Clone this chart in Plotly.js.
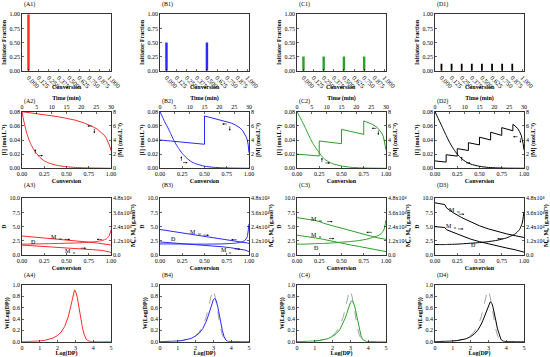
<!DOCTYPE html>
<html><head><meta charset="utf-8">
<script src="https://cdn.plot.ly/plotly-3.0.1.min.js"></script>
<style>body{margin:0;background:#fff}#chart{width:550px;height:357px}</style>
</head><body><div id="chart"></div>
<script>
// ---------- DATA ----------
const panelNames = ["A","B","C","D"];
const colors = ["#ff2a2a","#2a2aff","#2ca02c","#000000"];
// Row 1: initiator fraction added at each conversion
const convTickVals = [0,0.125,0.25,0.375,0.5,0.625,0.75,0.875,1.0];
const convTickText = ["0.000","0.125","0.250","0.375","0.500","0.625","0.750","0.875","1.000"];
const initConvA = [0], initFracA = [1.0];
const initConvB = [0,0.5], initFracB = [0.5,0.5];
const initConvC = [0,0.25,0.5,0.75], initFracC = [0.25,0.25,0.25,0.25];
const initConvD = [0,0.125,0.25,0.375,0.5,0.625,0.75,0.875], initFracD = [0.125,0.125,0.125,0.125,0.125,0.125,0.125,0.125];

// Row 2: [I] vs conversion (left / bottom)
const iConvA = [0,0.1,0.2,0.3,0.4,0.5,0.6,0.7,0.75,0.8,0.85,0.9,0.93,0.95,0.97,0.98,0.99,1.0];
const iValA  = [0.080,0.0785,0.077,0.075,0.073,0.0706,0.068,0.064,0.0615,0.0585,0.055,0.050,0.046,0.042,0.037,0.034,0.030,0.025];
const iConvB = [0,0.5,0.5,0.6,0.7,0.75,0.8,0.85,0.9,0.93,0.95,0.97,0.98,0.99,1.0];
const iValB  = [0.040,0.034,0.074,0.071,0.068,0.066,0.064,0.061,0.057,0.053,0.049,0.044,0.040,0.034,0.022];
const iConvC = [0,0.25,0.25,0.5,0.5,0.75,0.75,0.8,0.85,0.9,0.93,0.95,0.97,0.98,0.99,1.0];
const iValC  = [0.020,0.0174,0.0386,0.0348,0.055,0.048,0.067,0.065,0.062,0.058,0.054,0.050,0.045,0.040,0.034,0.026];
const iConvD = [0,0.125,0.125,0.25,0.25,0.375,0.375,0.5,0.5,0.625,0.625,0.75,0.75,0.875,0.875,0.9,0.93,0.95,0.97,0.98,0.99,1.0];
const iValD  = [0.0104,0.0088,0.0192,0.0172,0.0278,0.0252,0.0362,0.0330,0.0440,0.0400,0.0510,0.0465,0.0575,0.0530,0.0620,0.060,0.056,0.052,0.046,0.041,0.035,0.026];
// Row 2: [M] vs time (right / top)
const mTimeA = [0,0.6,1.2,1.8,2.4,3,3.9,4.8,6,7.5,9,12,15,18,21,24,30];
const mValA  = [8.0,6.7,5.6,4.7,4.0,3.4,2.7,2.15,1.55,1.05,0.75,0.4,0.22,0.12,0.07,0.04,0.0];
const mTimeB = [0,0.9,1.8,2.7,3.6,4.5,5.4,6.3,7.5,9,10.5,12,15,18,21,24,30];
const mValB  = [8.0,7.2,6.4,5.7,4.9,4.1,3.4,2.8,2.1,1.45,0.95,0.65,0.3,0.14,0.07,0.03,0.0];
const mTimeC = [0,0.9,1.8,2.7,3.6,4.5,5.4,6.3,7.5,9,10.5,12,15,18,21,24,30];
const mValC  = [8.0,7.3,6.6,5.8,5.0,4.2,3.5,2.9,2.2,1.4,0.95,0.65,0.33,0.15,0.07,0.03,0.0];
const mTimeD = [0,0.9,1.8,2.7,3.6,4.5,5.4,6.3,7.5,9,10.5,12,15,18,21,24,30];
const mValD  = [8.0,7.2,6.4,5.6,4.8,4.0,3.3,2.7,2.0,1.35,0.9,0.6,0.28,0.12,0.06,0.02,0.0];

// Row 3: dispersity (left) and Mn, Mw in g/mol (right)
const r3ConvA = [0,0.1,0.2,0.3,0.4,0.5,0.6,0.7,0.8,0.85,0.9,0.95,0.98,1.0];
const mwA = [16080,15456,14832,14208,13536,12816,12096,11376,10560,10080,9600,9120,8736,8448];
const mnA = [8400,7968,7536,7104,6672,6192,5712,5184,4560,4224,3840,3264,2640,2016];
const dA  = [1.91,1.94,1.97,2.0,2.03,2.07,2.12,2.19,2.32,2.4,2.55,2.85,3.4,4.4];
const r3ConvB = [0,0.1,0.2,0.3,0.4,0.5,0.6,0.7,0.8,0.85,0.9,0.95,0.98,1.0];
const mwB = [21600,20496,19344,18240,17088,15936,14784,13632,12384,11760,11136,10560,10176,9888];
const mnB = [11040,10512,9984,9456,8880,8304,7680,6960,6096,5616,5040,4224,3456,2880];
const dB  = [1.96,1.95,1.94,1.93,1.92,1.92,1.93,1.96,2.03,2.1,2.21,2.5,3.2,5.5];
const r3ConvC = [0,0.1,0.2,0.25,0.3,0.4,0.5,0.6,0.7,0.8,0.85,0.9,0.95,0.98,1.0];
const mwC = [31680,30720,29280,28320,26880,24720,22560,20400,18480,16560,15600,14640,13920,13440,13200];
const mnC = [16800,15840,14640,13920,13200,11520,9888,8544,7200,5760,5040,4416,3648,3168,2880];
const dC  = [1.9,1.93,2.0,2.03,2.04,2.13,2.26,2.38,2.55,2.85,3.1,3.35,3.8,4.6,6.2];
const r3ConvD = [0,0.05,0.11,0.13,0.2,0.3,0.4,0.5,0.6,0.7,0.8,0.9,0.95,0.98,1.0];
const mwD = [44160,43680,42720,39840,36000,31680,27840,24720,22080,19920,18000,16320,15600,15120,14880];
const mnD = [24000,23760,23280,21360,19200,16080,13440,11280,9360,7680,6000,4416,3456,2880,2400];
const dD  = [1.84,1.84,1.84,1.86,1.88,1.97,2.07,2.19,2.36,2.6,3.0,3.7,4.5,5.6,7.6];

// Row 4: molecular weight distribution
const logDP = [0,0.5,1.0,1.25,1.5,1.75,2.0,2.2,2.4,2.5,2.6,2.7,2.8,2.85,2.9,2.95,3.0,3.05,3.1,3.15,3.2,3.25,3.3,3.35,3.4,3.5,3.6,3.7,3.8,3.9,4.0,5.0];
const wA = [0,0.002,0.012,0.022,0.038,0.065,0.11,0.17,0.27,0.34,0.44,0.57,0.72,0.80,0.87,0.91,0.90,0.86,0.79,0.70,0.60,0.50,0.41,0.32,0.24,0.12,0.05,0.017,0.005,0.001,0,0];
const wB = [0,0.002,0.012,0.02,0.034,0.058,0.1,0.15,0.23,0.29,0.36,0.45,0.55,0.61,0.66,0.71,0.74,0.76,0.755,0.73,0.68,0.61,0.53,0.44,0.36,0.2,0.09,0.03,0.008,0.001,0,0];
const wC = [0,0.002,0.012,0.02,0.032,0.055,0.095,0.14,0.21,0.27,0.33,0.41,0.50,0.56,0.61,0.66,0.69,0.715,0.72,0.705,0.67,0.61,0.54,0.46,0.38,0.22,0.10,0.035,0.01,0.002,0,0];
const wD = [0,0.002,0.012,0.019,0.03,0.052,0.09,0.135,0.2,0.25,0.31,0.38,0.46,0.51,0.56,0.61,0.65,0.68,0.70,0.695,0.67,0.62,0.56,0.48,0.40,0.24,0.12,0.045,0.012,0.002,0,0];

const initConv=[initConvA,initConvB,initConvC,initConvD], initFrac=[initFracA,initFracB,initFracC,initFracD];
const iConv=[iConvA,iConvB,iConvC,iConvD], iVal=[iValA,iValB,iValC,iValD];
const mTime=[mTimeA,mTimeB,mTimeC,mTimeD], mVal=[mValA,mValB,mValC,mValD];
const r3Conv=[r3ConvA,r3ConvB,r3ConvC,r3ConvD], mw=[mwA,mwB,mwC,mwD], mn=[mnA,mnB,mnC,mnD], disp=[dA,dB,dC,dD];
const wdist=[wA,wB,wC,wD];

// ---------- LAYOUT ----------
const W=550,H=357;
const cols=[[22,111],[160,249],[297,386],[435,524]];
const rows=[[14.3,70.7],[111.7,168.3],[198.3,255],[285,341.7]];
const FONT='Liberation Serif, Times New Roman, serif';
const FS=6, SUB=4.2;
const layout={width:W,height:H,margin:{l:0,r:0,t:0,b:0},showlegend:false,
  paper_bgcolor:'#fff',plot_bgcolor:'rgba(0,0,0,0)',
  font:{family:FONT,size:FS,color:'#000'},annotations:[]};
const traces=[];
let nx=0, ny=0;
const key=(p,n)=>(n===1?p+'axis':p+'axis'+n);
const ref=(p,n)=>(n===1?p:p+n);
const cv=document.createElement('canvas').getContext('2d');
function tw(t,size,bold){cv.font=(bold?'bold ':'')+size+'px "Liberation Serif"';return cv.measureText(t).width;}
function base(extra){
  return Object.assign({showline:true,linecolor:'#000',linewidth:0.8,ticks:'inside',ticklen:2,
    tickwidth:0.6,tickcolor:'#000',showgrid:false,zeroline:false,tickfont:{size:FS,family:FONT,color:'#000'}},extra);
}
function ttl(t,so){return {text:t,font:{size:FS,family:FONT,weight:'bold',color:'#000'},standoff:so===undefined?2:so};}
function dom(c,r){
  return {x:[cols[c][0]/W,cols[c][1]/W], y:[1-rows[r][1]/H,1-rows[r][0]/H]};
}
function label(c,r,txt,ypx){
  layout.annotations.push({xref:'paper',yref:'paper',x:cols[c][0]/W,y:1-ypx/H,xanchor:'left',yanchor:'middle',
    text:txt,showarrow:false,font:{size:FS,family:FONT,color:'#000'}});
}
function arrow(xr,yr,x,y,axpx,aypx){
  layout.annotations.push({xref:xr,yref:yr,x:x,y:y,ax:axpx,ay:aypx,showarrow:true,arrowhead:2,arrowsize:0.6,arrowwidth:0.6,arrowcolor:'#000',text:''});
}
function txt(xr,yr,x,y,t){
  layout.annotations.push({xref:xr,yref:yr,x:x,y:y,text:t,showarrow:false,font:{size:FS,family:FONT,color:'#000'},xanchor:'center',yanchor:'middle'});
}
// "M" with a small subscript letter, as two plain text pieces
function msub(xr,yr,x,y,s){
  layout.annotations.push({xref:xr,yref:yr,x:x,y:y,text:'M',showarrow:false,borderpad:0,font:{size:FS,family:FONT,color:'#000'},xanchor:'right',yanchor:'middle'});
  layout.annotations.push({xref:xr,yref:yr,x:x,y:y,text:s,showarrow:false,borderpad:0,yshift:-1.6,font:{size:SUB,family:FONT,color:'#000'},xanchor:'left',yanchor:'middle'});
}
// rotated (bottom-to-top) bold title built from pieces [text, isSub]
function rotTitle(xpx,ycpx,pieces){
  const ws=pieces.map(p=>tw(p[0],p[1]?SUB:FS,true)+(p[2]||0));
  const L=ws.reduce((a,b)=>a+b,0);
  let yb=ycpx+L/2;
  pieces.forEach((p,i)=>{
    layout.annotations.push({xref:'paper',yref:'paper',x:(xpx+(p[1]?1.8:0))/W,y:1-yb/H,text:p[0],textangle:-90,showarrow:false,borderpad:0,
      xanchor:'center',yanchor:'bottom',font:{size:p[1]?SUB:FS,family:FONT,weight:'bold',color:'#000'}});
    yb-=ws[i];
  });
}

for(let c=0;c<4;c++){
  const col=colors[c], P=panelNames[c];
  // Row 1
  {
    const d=dom(c,0); const xi=++nx, yi=++ny;
    layout[key('x',xi)]=base({domain:d.x,anchor:ref('y',yi),range:[-0.08,1.02],tickvals:convTickVals,ticktext:convTickText,tickangle:45,mirror:true,
      tickfont:{size:6.5,family:FONT,color:'#000'}});
    layout[key('y',yi)]=base({domain:d.y,anchor:ref('x',xi),range:[0,1],tickvals:[0,0.25,0.5,0.75,1],tickformat:'.2f',mirror:true,title:ttl('Initiator Fraction')});
    traces.push({type:'bar',x:initConv[c],y:initFrac[c],width:c===3?0.022:0.03,marker:{color:col,line:{width:0}},xaxis:ref('x',xi),yaxis:ref('y',yi)});
    layout.annotations.push({xref:'paper',yref:'paper',x:(cols[c][0]+cols[c][1])/2/W,y:1-87/H,text:'Conversion',showarrow:false,
      xanchor:'center',yanchor:'middle',font:{size:FS,family:FONT,weight:'bold',color:'#000'}});
    label(c,0,'('+P+'1)',5);
  }
  // Row 2
  {
    const d=dom(c,1); const xi=++nx, yi=++ny, xt=++nx, yr=++ny;
    layout[key('x',xi)]=base({domain:d.x,anchor:ref('y',yi),range:[0,1],dtick:0.25,tickformat:'.2f',title:ttl('Conversion')});
    layout[key('y',yi)]=base({domain:d.y,anchor:ref('x',xi),range:[0,0.08],dtick:0.02,tickformat:'.2f',title:ttl('[I] (mol.L⁻¹)')});
    layout[key('x',xt)]=base({overlaying:ref('x',xi),side:'top',anchor:ref('y',yi),range:[0,30],dtick:5,title:ttl('Time (min)')});
    layout[key('y',yr)]=base({overlaying:ref('y',yi),side:'right',anchor:ref('x',xi),range:[0,8],dtick:2,title:ttl('[M] (mol.L⁻¹)')});
    traces.push({type:'scatter',mode:'lines',x:iConv[c],y:iVal[c],line:{color:col,width:1},xaxis:ref('x',xi),yaxis:ref('y',yi)});
    traces.push({type:'scatter',mode:'lines',x:mTime[c],y:mVal[c],line:{color:col,width:1,shape:'spline',smoothing:0.6},xaxis:ref('x',xt),yaxis:ref('y',yr)});
    label(c,1,'('+P+'2)',101);
    const X=ref('x',xi), Y=ref('y',yi);
    const ia=[[0.735,0.813,0.0598,0.0494],[0.70,0.784,0.0626,0.053],[0.84,0.914,0.0565,0.047],[0.877,0.96,0.0447,0.036]][c];
    arrow(X,Y,ia[0],ia[2],6,0); arrow(X,Y,ia[1],ia[3],0,-6);
    const ma=[[0.149,0.235,0.018,0.027],[0.24,0.31,0.008,0.017],[0.28,0.37,0.0075,0.015],[0.30,0.40,0.0075,0.0165]][c];
    arrow(X,Y,ma[0],ma[3],0,6); arrow(X,Y,ma[1],ma[2],-6,0);
  }
  // Row 3
  {
    const d=dom(c,2); const xi=++nx, yi=++ny, yr=++ny;
    layout[key('x',xi)]=base({domain:d.x,anchor:ref('y',yi),range:[0,1],dtick:0.25,tickformat:'.2f',mirror:true,title:ttl('Conversion')});
    layout[key('y',yi)]=base({domain:d.y,anchor:ref('x',xi),range:[0,10],tickvals:[0,2.5,5,7.5,10],tickformat:'.1f',title:ttl('Đ')});
    layout[key('y',yr)]=base({overlaying:ref('y',yi),side:'right',anchor:ref('x',xi),range:[0,48000],tickvals:[0,12000,24000,36000,48000],
      ticktext:['0.0','1.2x10⁴','2.4x10⁴','3.6x10⁴','4.8x10⁴']});
    rotTitle(cols[c][1]+22,(rows[2][0]+rows[2][1])/2,[['M',false],['n',true],[', M',false],['w',true,1.2],['(g.mol⁻¹)',false]]);
    traces.push({type:'scatter',mode:'lines',x:r3Conv[c],y:disp[c],line:{color:col,width:1,shape:'spline',smoothing:0.4},xaxis:ref('x',xi),yaxis:ref('y',yi)});
    traces.push({type:'scatter',mode:'lines',x:r3Conv[c],y:mw[c],line:{color:col,width:1},xaxis:ref('x',xi),yaxis:ref('y',yr)});
    traces.push({type:'scatter',mode:'lines',x:r3Conv[c],y:mn[c],line:{color:col,width:1},xaxis:ref('x',xi),yaxis:ref('y',yr)});
    label(c,2,'('+P+'3)',185);
    const X=ref('x',xi), Y=ref('y',yi);
    const lab=[
      {mw:[0.41,3.15],mn:[0.56,0.75],d:[0.13,2.3],am:[0.54,2.75],an:[0.72,1.2],ad:[0.84,2.75]},
      {mw:[0.42,4.1],mn:[0.76,0.8],d:[0.15,2.75],am:[0.55,3.5],an:[0.90,1.05],ad:[0.80,2.7]},
      {mw:[0.24,6.3],mn:[0.24,3.5],d:[0.22,1.3],am:[0.40,5.9],an:[0.42,2.9],ad:[0.78,4.0]},
      {mw:[0.24,7.9],mn:[0.20,5.2],d:[0.43,1.7],am:[0.33,7.2],an:[0.32,4.6],ad:[0.70,2.9]}][c];
    msub(X,Y,lab.mw[0],lab.mw[1],'w'); msub(X,Y,lab.mn[0],lab.mn[1],'n'); txt(X,Y,lab.d[0],lab.d[1],'Đ');
    arrow(X,Y,lab.am[0],lab.am[1],-7,0); arrow(X,Y,lab.an[0],lab.an[1],-7,0); arrow(X,Y,lab.ad[0],lab.ad[1],7,0);
  }
  // Row 4
  {
    const d=dom(c,3); const xi=++nx, yi=++ny;
    layout[key('x',xi)]=base({domain:d.x,anchor:ref('y',yi),range:[0,5],dtick:1,mirror:true,title:ttl('Log(DP)')});
    layout[key('y',yi)]=base({domain:d.y,anchor:ref('x',xi),range:[0,1],dtick:0.2,tickformat:'.1f',mirror:true,title:ttl('W(Log(DP))')});
    if(c>0) traces.push({type:'scatter',mode:'lines',x:logDP,y:wA,line:{color:'#9a9a9a',width:0.9,dash:'dash'},xaxis:ref('x',xi),yaxis:ref('y',yi)});
    traces.push({type:'scatter',mode:'lines',x:logDP,y:wdist[c],line:{color:col,width:1},xaxis:ref('x',xi),yaxis:ref('y',yi)});
    label(c,3,'('+P+'4)',275);
  }
}
Plotly.newPlot('chart',traces,layout,{staticPlot:true,displayModeBar:false});
</script>
</body></html>
